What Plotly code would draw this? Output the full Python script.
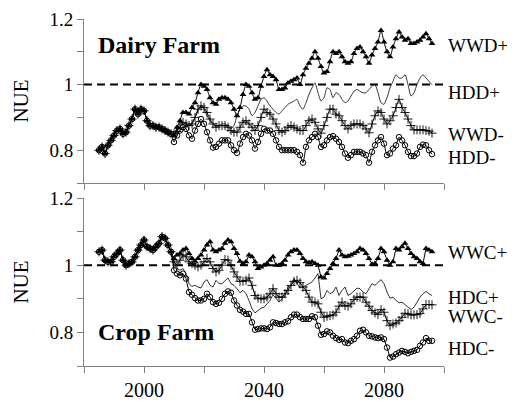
import plotly.graph_objects as go

years_hist = list(range(1985, 2010))
years_proj = list(range(2010, 2097))

# ---------------- Dairy farm ----------------
hist_dairy = [0.800, 0.810, 0.790, 0.815, 0.830, 0.845, 0.860, 0.865, 0.850, 0.855,
              0.875, 0.895, 0.925, 0.910, 0.925, 0.920, 0.890, 0.875, 0.875, 0.870,
              0.870, 0.865, 0.860, 0.855, 0.850]

wwd_plus = [0.845, 0.870, 0.890, 0.915, 0.915, 0.910, 0.930, 0.945, 0.975, 1.000,
            0.995, 0.985, 0.960, 0.945, 0.940, 0.955, 0.960, 0.960, 0.955, 0.945,
            0.925, 0.905, 0.930, 0.970, 1.000, 0.995, 0.975, 0.955, 0.960, 0.995,
            1.025, 1.045, 1.030, 1.025, 1.015, 0.985, 0.985, 0.990, 1.005, 1.010,
            1.015, 1.020, 1.000, 1.030, 1.050, 1.065, 1.080, 1.100, 1.080, 1.055,
            1.035, 1.040, 1.070, 1.100, 1.095, 1.100, 1.085, 1.070, 1.065, 1.070,
            1.095, 1.110, 1.115, 1.100, 1.085, 1.065, 1.090, 1.110, 1.130, 1.165,
            1.130, 1.100, 1.085, 1.115, 1.140, 1.160, 1.145, 1.135, 1.140, 1.125,
            1.125, 1.130, 1.135, 1.145, 1.155, 1.140, 1.125]

hdd_plus = [0.850, 0.865, 0.880, 0.885, 0.880, 0.875, 0.885, 0.900, 0.920, 0.935,
            0.925, 0.905, 0.890, 0.880, 0.875, 0.875, 0.880, 0.880, 0.875, 0.865,
            0.875, 0.905, 0.925, 0.935, 0.935, 0.925, 0.905, 0.915, 0.935, 0.955,
            0.960, 0.950, 0.935, 0.925, 0.915, 0.910, 0.920, 0.930, 0.940, 0.945,
            0.950, 0.955, 0.935, 0.925, 0.945, 0.970, 0.990, 1.005, 0.975, 0.950,
            0.960, 0.990, 0.985, 0.960, 0.975, 0.970, 0.955, 0.945, 0.950, 0.965,
            0.980, 0.985, 0.980, 0.975, 0.975, 0.985, 0.995, 1.000, 0.975, 0.945,
            0.940, 0.960, 0.990, 1.010, 1.030, 1.020, 1.020, 1.030, 1.000, 0.965,
            0.975, 1.000, 1.020, 1.030, 1.020, 1.010, 1.000]

wwd_minus = [0.850, 0.857, 0.870, 0.885, 0.880, 0.875, 0.880, 0.900, 0.925, 0.935,
             0.930, 0.915, 0.895, 0.880, 0.870, 0.875, 0.875, 0.875, 0.870, 0.860,
             0.855, 0.855, 0.870, 0.885, 0.890, 0.880, 0.870, 0.860, 0.875, 0.900,
             0.925, 0.915, 0.910, 0.895, 0.880, 0.860, 0.855, 0.860, 0.870, 0.875,
             0.870, 0.865, 0.860, 0.860, 0.875, 0.890, 0.895, 0.885, 0.865, 0.852,
             0.875, 0.900, 0.925, 0.925, 0.910, 0.905, 0.890, 0.875, 0.865, 0.875,
             0.880, 0.880, 0.880, 0.875, 0.865, 0.853, 0.880, 0.905, 0.920, 0.915,
             0.895, 0.880, 0.890, 0.905, 0.930, 0.955, 0.930, 0.915, 0.895, 0.875,
             0.862, 0.862, 0.862, 0.862, 0.860, 0.858, 0.852]

hdd_minus = [0.825, 0.845, 0.860, 0.870, 0.865, 0.845, 0.835, 0.860, 0.880, 0.895,
             0.880, 0.855, 0.830, 0.808, 0.810, 0.820, 0.830, 0.830, 0.830, 0.815,
             0.800, 0.792, 0.820, 0.840, 0.850, 0.845, 0.830, 0.805, 0.825, 0.850,
             0.865, 0.860, 0.860, 0.850, 0.830, 0.810, 0.800, 0.800, 0.800, 0.800,
             0.800, 0.795, 0.785, 0.762, 0.810, 0.830, 0.840, 0.850, 0.840, 0.810,
             0.815, 0.830, 0.840, 0.843, 0.835, 0.825, 0.810, 0.790, 0.777, 0.785,
             0.795, 0.795, 0.795, 0.790, 0.785, 0.762, 0.795, 0.815, 0.830, 0.840,
             0.820, 0.785, 0.790, 0.805, 0.815, 0.840, 0.830, 0.815, 0.795, 0.782,
             0.782, 0.790, 0.810, 0.817, 0.815, 0.800, 0.788]

# ---------------- Crop farm ----------------
hist_crop = [1.040, 1.045, 1.015, 1.010, 1.010, 1.025, 1.035, 1.045, 1.015, 1.000,
             1.005, 1.010, 1.025, 1.045, 1.060, 1.075, 1.055, 1.050, 1.045, 1.055,
             1.065, 1.085, 1.080, 1.060, 1.040]

wwc_plus = [1.020, 1.030, 1.035, 1.045, 1.050, 1.035, 1.020, 1.012, 1.020, 1.030,
            1.045, 1.060, 1.070, 1.045, 1.040, 1.045, 1.050, 1.065, 1.075, 1.070,
            1.050, 1.035, 1.012, 1.005, 1.010, 1.030, 1.025, 1.010, 0.990, 0.995,
            1.000, 1.005, 1.015, 1.025, 1.000, 1.000, 1.005, 1.015, 1.030, 1.040,
            1.045, 1.045, 1.035, 1.020, 1.010, 1.008, 1.010, 1.005, 1.000, 0.965,
            0.962, 0.975, 0.990, 1.005, 1.020, 1.045, 1.030, 1.025, 1.027, 1.030,
            1.035, 1.040, 1.050, 1.045, 1.035, 1.020, 1.003, 1.005, 1.020, 1.050,
            1.040, 1.015, 1.000, 1.010, 1.050, 1.045, 1.055, 1.065, 1.050, 1.035,
            1.025, 1.020, 1.010, 1.005, 1.050, 1.045, 1.040]

hdc_plus = [1.000, 0.990, 0.985, 0.990, 0.975, 0.945, 0.937, 0.940, 0.935, 0.932,
            0.950, 0.957, 0.940, 0.935, 0.955, 0.945, 0.945, 0.955, 0.962, 0.945,
            0.940, 0.930, 0.918, 0.925, 0.915, 0.895, 0.870, 0.858, 0.865, 0.872,
            0.875, 0.885, 0.895, 0.912, 0.900, 0.890, 0.900, 0.910, 0.935, 0.940,
            0.960, 0.945, 0.932, 0.935, 0.940, 0.945, 0.950, 0.962, 0.975, 0.900,
            0.905, 0.925, 0.915, 0.920, 0.935, 0.910, 0.925, 0.935, 0.910, 0.915,
            0.925, 0.932, 0.930, 0.920, 0.915, 0.930, 0.945, 0.940, 0.950, 0.957,
            0.945, 0.920, 0.902, 0.905, 0.895, 0.888, 0.890, 0.883, 0.875, 0.868,
            0.875, 0.890, 0.905, 0.915, 0.922, 0.915, 0.910]

wwc_minus = [1.010, 1.000, 1.015, 1.030, 1.025, 1.010, 1.005, 1.000, 0.995, 1.000,
             1.010, 1.020, 1.010, 0.990, 0.980, 0.985, 1.000, 1.017, 1.015, 1.000,
             0.980, 0.965, 0.952, 0.952, 0.955, 0.962, 0.940, 0.910, 0.902, 0.900,
             0.900, 0.905, 0.915, 0.930, 0.915, 0.905, 0.905, 0.915, 0.925, 0.940,
             0.952, 0.955, 0.948, 0.935, 0.925, 0.905, 0.890, 0.890, 0.885, 0.860,
             0.845, 0.848, 0.850, 0.852, 0.860, 0.878, 0.890, 0.880, 0.878, 0.885,
             0.898, 0.905, 0.905, 0.905, 0.890, 0.878, 0.865, 0.858, 0.853, 0.868,
             0.860, 0.835, 0.820, 0.825, 0.828, 0.835, 0.845, 0.857, 0.855, 0.852,
             0.852, 0.853, 0.856, 0.870, 0.883, 0.883, 0.882]

hdc_minus = [0.985, 0.975, 0.970, 0.975, 0.960, 0.920, 0.912, 0.902, 0.895, 0.895,
             0.900, 0.915, 0.905, 0.890, 0.885, 0.888, 0.900, 0.915, 0.922, 0.918,
             0.895, 0.880, 0.867, 0.862, 0.855, 0.855, 0.830, 0.808, 0.810, 0.812,
             0.812, 0.810, 0.815, 0.830, 0.828, 0.825, 0.825, 0.830, 0.833, 0.845,
             0.853, 0.853, 0.845, 0.840, 0.840, 0.840, 0.848, 0.845, 0.820, 0.793,
             0.795, 0.803, 0.800, 0.790, 0.783, 0.778, 0.780, 0.770, 0.768, 0.775,
             0.780, 0.790, 0.805, 0.808, 0.800, 0.790, 0.788, 0.785, 0.783, 0.785,
             0.780, 0.755, 0.725, 0.728, 0.735, 0.740, 0.745, 0.742, 0.738, 0.742,
             0.745, 0.748, 0.760, 0.770, 0.783, 0.775, 0.775]

dairy_labels = ["WWD+", "HDD+", "WWD-", "HDD-"]
dairy_label_y = [1.118, 0.976, 0.847, 0.777]
crop_labels = ["WWC+", "HDC+", "WWC-", "HDC-"]
crop_label_y = [1.037, 0.903, 0.848, 0.753]

x_tickvals = [1980, 2000, 2020, 2040, 2060, 2080, 2100]
x_ticktext = ["", "2000", "", "2040", "", "2080", ""]
y_tickvals = [0.7, 0.8, 0.9, 1.0, 1.1, 1.2]
y_ticktext = ["", "0.8", "", "1", "", "1.2"]

SERIF = "Liberation Serif, Times New Roman, serif"
years_all = years_hist + years_proj

fig = go.Figure()


def add_panel(hist, series, xa, ya, smooth):
    styles = [
        dict(mode="lines+markers", marker=dict(symbol="triangle-up", size=6, color="black")),
        dict(mode="lines", marker=None),
        dict(mode="lines+markers", marker=dict(symbol="cross-thin-open", size=6.5,
                                                 line=dict(color="black", width=0.9))),
        dict(mode="lines+markers", marker=dict(symbol="circle-open", size=5.5,
                                                 line=dict(color="black", width=1))),
    ]
    order = [1, 3, 2, 0]
    for i in order:
        st = styles[i]
        line = dict(color="black", width=1 if i != 1 else 0.8)
        if smooth:
            line["shape"] = "spline"
            line["smoothing"] = 0.6
        kw = dict(x=years_all, y=hist + series[i], mode=st["mode"], line=line,
                  xaxis=xa, yaxis=ya, showlegend=False, hoverinfo="skip")
        if st["marker"] is not None:
            kw["marker"] = st["marker"]
        fig.add_trace(go.Scatter(**kw))


add_panel(hist_dairy, [wwd_plus, hdd_plus, wwd_minus, hdd_minus], "x", "y", True)
add_panel(hist_crop, [wwc_plus, hdc_plus, wwc_minus, hdc_minus], "x2", "y2", False)

axis_color = "#808080"
common_x = dict(range=[1980, 2100], tickvals=x_tickvals, ticktext=x_ticktext,
                ticks="outside", ticklen=6, tickcolor=axis_color, showline=True,
                linecolor=axis_color, linewidth=1, showgrid=False, zeroline=False,
                automargin=False, ticklabeloverflow="allow",
                tickfont=dict(family=SERIF, size=20, color="black"))
common_y = dict(range=[0.7, 1.2], tickvals=y_tickvals, ticktext=y_ticktext,
                ticks="outside", ticklen=6, tickcolor=axis_color, showline=True,
                linecolor=axis_color, linewidth=1, showgrid=False, zeroline=False,
                automargin=False, ticklabeloverflow="allow",
                tickfont=dict(family=SERIF, size=19, color="black"),
                title=dict(text="NUE", font=dict(family=SERIF, size=21, color="black"),
                           standoff=15))

# the page body adds an 8px offset, so the figure is sized/positioned to compensate
OFF = 8
FIG_W, FIG_H = 515 - OFF, 402 - OFF
PLOT_L, PLOT_R = 84 - OFF, 444 - OFF
PLOT_TOP, PLOT_BOTTOM = 19 - OFF, 366 - OFF
PLOT_H = PLOT_BOTTOM - PLOT_TOP
top_dom = [(366 - 183) / PLOT_H, 1.0]
bot_dom = [0.0, (366 - 198) / PLOT_H]

fig.update_layout(
    width=FIG_W, height=FIG_H,
    margin=dict(l=PLOT_L, r=FIG_W - PLOT_R, t=PLOT_TOP, b=FIG_H - PLOT_BOTTOM,
                autoexpand=False),
    paper_bgcolor="white", plot_bgcolor="white",
    xaxis=dict(anchor="y", showticklabels=False, **common_x),
    yaxis=dict(domain=top_dom, anchor="x", **common_y),
    xaxis2=dict(anchor="y2", **common_x),
    yaxis2=dict(domain=bot_dom, anchor="x2", **common_y),
)

for ya in ["y", "y2"]:
    fig.add_shape(type="line", xref="x" if ya == "y" else "x2", yref=ya,
                  x0=1980, x1=2100, y0=1.0, y1=1.0,
                  line=dict(color="black", width=2, dash="8px,5px"), layer="below")

fig.add_annotation(x=1984, y=1.12, xref="x", yref="y", text="<b>Dairy Farm</b>",
                   showarrow=False, xanchor="left", yanchor="middle",
                   font=dict(family=SERIF, size=24, color="black"))
fig.add_annotation(x=1984, y=0.80, xref="x2", yref="y2", text="<b>Crop Farm</b>",
                   showarrow=False, xanchor="left", yanchor="middle",
                   font=dict(family=SERIF, size=24, color="black"))


def to_paper_y(v, dom):
    return dom[0] + (v - 0.7) / 0.5 * (dom[1] - dom[0])


LABEL_X = 1.006
for txt, yv in zip(dairy_labels, dairy_label_y):
    fig.add_annotation(x=LABEL_X, y=to_paper_y(yv, top_dom), xref="paper", yref="paper",
                       text=txt, showarrow=False, xanchor="left", yanchor="middle",
                       font=dict(family=SERIF, size=19, color="black"))
for txt, yv in zip(crop_labels, crop_label_y):
    fig.add_annotation(x=LABEL_X, y=to_paper_y(yv, bot_dom), xref="paper", yref="paper",
                       text=txt, showarrow=False, xanchor="left", yanchor="middle",
                       font=dict(family=SERIF, size=19, color="black"))

fig.write_html("out.html")
